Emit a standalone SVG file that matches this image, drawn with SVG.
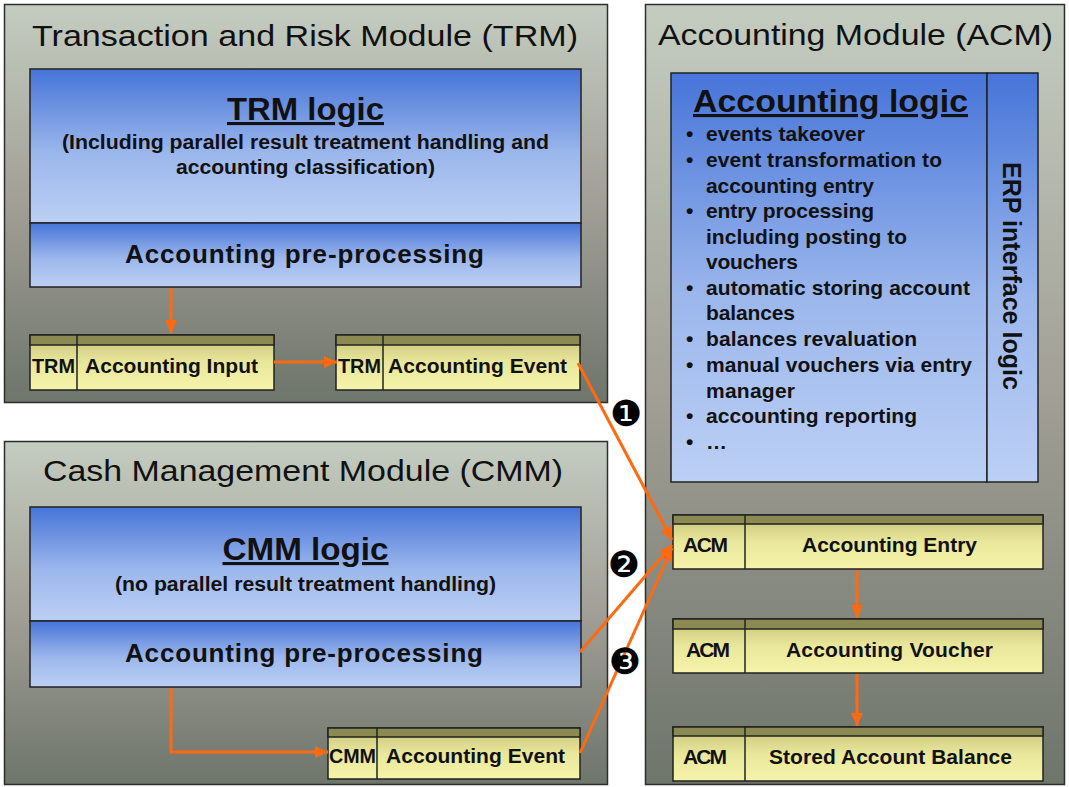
<svg xmlns="http://www.w3.org/2000/svg" width="1069" height="787" viewBox="0 0 1069 787">
  <defs>
    <linearGradient id="modFill" x1="0" y1="0" x2="0" y2="1">
      <stop offset="0" stop-color="#c4ccc0"/>
      <stop offset="0.5" stop-color="#a19f96"/>
      <stop offset="1" stop-color="#6e756b"/>
    </linearGradient>
    <linearGradient id="blueFill" x1="0" y1="0" x2="0" y2="1">
      <stop offset="0" stop-color="#4674d8"/>
      <stop offset="0.55" stop-color="#9cb7ec"/>
      <stop offset="1" stop-color="#bcd0f5"/>
    </linearGradient>
    <linearGradient id="cellFill" x1="0" y1="0" x2="0" y2="1">
      <stop offset="0" stop-color="#c6c37a"/>
      <stop offset="0.5" stop-color="#e9e79b"/>
      <stop offset="1" stop-color="#f6f4aa"/>
    </linearGradient>
    <marker id="arrow" markerUnits="userSpaceOnUse" markerWidth="14" markerHeight="14" viewBox="0 0 14 14" refX="13" refY="7" orient="auto">
      <path d="M0,1 L13,7 L0,13 Z" fill="#ff6a10"/>
    </marker>
    <style>
      .module { fill: url(#modFill); stroke: #2e2e2e; stroke-width: 1.5; }
      .blue { fill: url(#blueFill); stroke: #222; stroke-width: 1.5; }
      .cell { fill: url(#cellFill); stroke: #222; stroke-width: 1.5; }
      .head { fill: #8b8a52; stroke: #222; stroke-width: 1.5; }
      .sep { stroke: #222; stroke-width: 1.5; }
      .title { font-family: "Liberation Sans", Arial, sans-serif; font-size: 30px; fill: #111; }
      .logic { font-family: "Liberation Sans", Arial, sans-serif; font-size: 31px; font-weight: bold; fill: #111; text-decoration: underline; }
      .sub { font-family: "Liberation Sans", Arial, sans-serif; font-size: 19.5px; font-weight: bold; fill: #111; }
      .pre { font-family: "Liberation Sans", Arial, sans-serif; font-size: 26px; font-weight: bold; fill: #111; }
      .cellText { font-family: "Liberation Sans", Arial, sans-serif; font-size: 21px; font-weight: bold; fill: #111; }
      .bullet { font-family: "Liberation Sans", Arial, sans-serif; font-size: 21px; font-weight: bold; fill: #111; }
      .erp { font-family: "Liberation Sans", Arial, sans-serif; font-size: 25px; font-weight: bold; fill: #111; }
      .num { font-family: "DejaVu Sans", sans-serif; font-size: 36px; fill: #000; }
      .flow { fill: none; stroke: #ff6a10; stroke-width: 3; }
    </style>
  </defs>

  <rect width="1069" height="787" fill="#ffffff"/>

  <!-- Transaction and Risk Module -->
  <g id="trm-module">
    <rect class="module" x="4.5" y="4.5" width="603" height="398"/>
    <text class="title" x="32" y="46" textLength="546" lengthAdjust="spacingAndGlyphs">Transaction and Risk Module (TRM)</text>
  </g>
  <g id="trm-logic">
    <rect class="blue" x="30" y="69" width="551" height="154"/>
    <text class="logic" x="305.5" y="120" text-anchor="middle" textLength="157" lengthAdjust="spacingAndGlyphs">TRM logic</text>
    <text class="sub" x="305.5" y="149" text-anchor="middle" textLength="487" lengthAdjust="spacingAndGlyphs">(Including parallel result treatment handling and</text>
    <text class="sub" x="305.5" y="174" text-anchor="middle" textLength="259" lengthAdjust="spacingAndGlyphs">accounting classification)</text>
  </g>
  <g id="trm-preprocessing">
    <rect class="blue" x="30" y="223" width="551" height="64"/>
    <text class="pre" x="125" y="263" textLength="359">Accounting pre-processing</text>
  </g>
  <g id="trm-accounting-input">
    <rect class="cell" x="30" y="335" width="244" height="55"/>
    <rect class="head" x="30" y="335" width="244" height="10"/>
    <line class="sep" x1="77" y1="335" x2="77" y2="390"/>
    <text class="cellText" x="32" y="373" textLength="43" lengthAdjust="spacingAndGlyphs">TRM</text>
    <text class="cellText" x="85" y="373" textLength="173">Accounting Input</text>
  </g>
  <g id="trm-accounting-event">
    <rect class="cell" x="336" y="335" width="244" height="55"/>
    <rect class="head" x="336" y="335" width="244" height="10"/>
    <line class="sep" x1="383" y1="335" x2="383" y2="390"/>
    <text class="cellText" x="338" y="373" textLength="43" lengthAdjust="spacingAndGlyphs">TRM</text>
    <text class="cellText" x="388" y="373" textLength="179">Accounting Event</text>
  </g>

  <!-- Cash Management Module -->
  <g id="cmm-module">
    <rect class="module" x="4.5" y="441.5" width="603" height="343"/>
    <text class="title" x="43" y="481" textLength="520" lengthAdjust="spacingAndGlyphs">Cash Management Module (CMM)</text>
  </g>
  <g id="cmm-logic">
    <rect class="blue" x="30" y="507" width="551" height="114"/>
    <text class="logic" x="305.5" y="560" text-anchor="middle" textLength="166" lengthAdjust="spacingAndGlyphs">CMM logic</text>
    <text class="sub" x="305.5" y="591" text-anchor="middle" textLength="381" lengthAdjust="spacingAndGlyphs">(no parallel result treatment handling)</text>
  </g>
  <g id="cmm-preprocessing">
    <rect class="blue" x="30" y="621" width="551" height="66" stroke-width="2.5"/>
    <text class="pre" x="125" y="662" textLength="358">Accounting pre-processing</text>
  </g>
  <g id="cmm-accounting-event">
    <rect class="cell" x="328" y="728" width="252" height="51"/>
    <rect class="head" x="328" y="728" width="252" height="9"/>
    <line class="sep" x1="377" y1="728" x2="377" y2="779"/>
    <text class="cellText" x="329" y="763" textLength="47" lengthAdjust="spacingAndGlyphs">CMM</text>
    <text class="cellText" x="386" y="763" textLength="179">Accounting Event</text>
  </g>

  <!-- Accounting Module -->
  <g id="acm-module">
    <rect class="module" x="645.5" y="4.5" width="419" height="780"/>
    <text class="title" x="658" y="45" textLength="395" lengthAdjust="spacingAndGlyphs">Accounting Module (ACM)</text>
  </g>
  <g id="acm-logic">
    <rect class="blue" x="671" y="73" width="316" height="409"/>
    <text class="logic" x="693" y="112" textLength="275" lengthAdjust="spacingAndGlyphs">Accounting logic</text>
    <g class="bullet">
      <text x="686" y="141">•</text><text x="706" y="141" textLength="159">events takeover</text>
      <text x="686" y="167">•</text><text x="706" y="167" textLength="236">event transformation to</text>
      <text x="706" y="193" textLength="168">accounting entry</text>
      <text x="686" y="218">•</text><text x="706" y="218" textLength="168">entry processing</text>
      <text x="706" y="244" textLength="201">including posting to</text>
      <text x="706" y="269" textLength="92">vouchers</text>
      <text x="686" y="295">•</text><text x="706" y="295" textLength="264">automatic storing account</text>
      <text x="706" y="320" textLength="89">balances</text>
      <text x="686" y="346">•</text><text x="706" y="346" textLength="211">balances revaluation</text>
      <text x="686" y="372">•</text><text x="706" y="372" textLength="266">manual vouchers via entry</text>
      <text x="706" y="398" textLength="89">manager</text>
      <text x="686" y="423">•</text><text x="706" y="423" textLength="211">accounting reporting</text>
      <text x="686" y="449">•</text><text x="706" y="449">…</text>
    </g>
  </g>
  <g id="erp-interface">
    <rect class="blue" x="987" y="73" width="51" height="409"/>
    <text class="erp" transform="translate(1003 276) rotate(90)" text-anchor="middle" textLength="228">ERP interface logic</text>
  </g>
  <g id="acm-accounting-entry">
    <rect class="cell" x="673" y="515" width="370" height="54"/>
    <rect class="head" x="673" y="515" width="370" height="9"/>
    <line class="sep" x1="745" y1="515" x2="745" y2="569"/>
    <text class="cellText" x="683" y="552" textLength="45">ACM</text>
    <text class="cellText" x="802" y="552" textLength="175">Accounting Entry</text>
  </g>
  <g id="acm-accounting-voucher">
    <rect class="cell" x="673" y="619" width="370" height="54"/>
    <rect class="head" x="673" y="619" width="370" height="10"/>
    <line class="sep" x1="745" y1="619" x2="745" y2="673"/>
    <text class="cellText" x="686" y="657" textLength="44">ACM</text>
    <text class="cellText" x="786" y="657" textLength="207">Accounting Voucher</text>
  </g>
  <g id="acm-stored-balance">
    <rect class="cell" x="673" y="727" width="370" height="54"/>
    <rect class="head" x="673" y="727" width="370" height="9"/>
    <line class="sep" x1="745" y1="727" x2="745" y2="781"/>
    <text class="cellText" x="683" y="764" textLength="44">ACM</text>
    <text class="cellText" x="769" y="764" textLength="243">Stored Account Balance</text>
  </g>

  <!-- Flow connectors -->
  <g id="connectors">
    <line class="flow" x1="171" y1="288" x2="171" y2="333" marker-end="url(#arrow)"/>
    <line class="flow" x1="274" y1="362" x2="337" y2="362" marker-end="url(#arrow)"/>
    <line class="flow" x1="578" y1="363" x2="672" y2="540" marker-end="url(#arrow)"/>
    <line class="flow" x1="580" y1="652" x2="672" y2="545" marker-end="url(#arrow)"/>
    <line class="flow" x1="580" y1="753" x2="672" y2="548" marker-end="url(#arrow)"/>
    <polyline class="flow" points="171,688 171,752 328,752" marker-end="url(#arrow)"/>
    <line class="flow" x1="857" y1="570" x2="857" y2="618" marker-end="url(#arrow)"/>
    <line class="flow" x1="857" y1="674" x2="857" y2="726" marker-end="url(#arrow)"/>
  </g>

  <!-- Step numbers -->
  <g id="step-numbers">
    <text class="num" x="626" y="426" text-anchor="middle">❶</text>
    <text class="num" x="624" y="577" text-anchor="middle">❷</text>
    <text class="num" x="625" y="674" text-anchor="middle">❸</text>
  </g>
</svg>
